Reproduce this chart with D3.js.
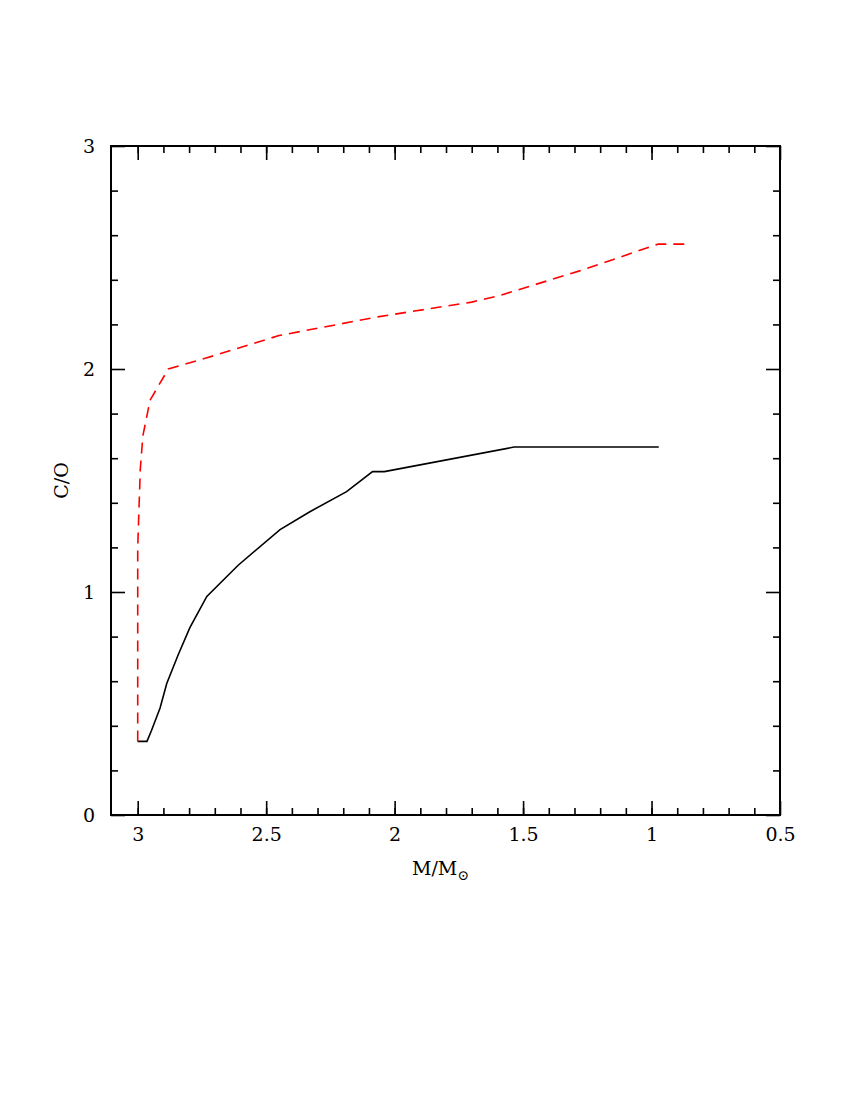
<!DOCTYPE html>
<html>
<head>
<meta charset="utf-8">
<script src="https://cdn.jsdelivr.net/npm/d3@7"></script>
<style>
  body { margin: 0; background: #fff; }
  .axis text { font-family: "DejaVu Serif", serif; font-size: 19px; fill: #000; }
  .axis line { stroke: #000; stroke-width: 1.6; }
</style>
</head>
<body>
<div id="chart"></div>
<script>
// data
const massSolid = [3.0, 2.964, 2.946, 2.913, 2.887, 2.842, 2.797, 2.731, 2.609, 2.446, 2.33, 2.187, 2.086, 2.04, 1.535, 0.972];
const coSolid = [0.33, 0.33, 0.38, 0.48, 0.59, 0.72, 0.84, 0.98, 1.12, 1.28, 1.36, 1.45, 1.54, 1.54, 1.65, 1.65];

const massDashed = [3.0, 3.0, 2.99, 2.98, 2.952, 2.881, 2.731, 2.45, 2.06, 1.70, 1.59, 1.28, 0.974, 0.863];
const coDashed = [0.33, 1.2, 1.55, 1.70, 1.86, 2.00, 2.05, 2.15, 2.235, 2.30, 2.33, 2.44, 2.56, 2.56];

const xMajor = [3, 2.5, 2, 1.5, 1, 0.5];
const xMinor = [3.0, 2.9, 2.8, 2.7, 2.6, 2.5, 2.4, 2.3, 2.2, 2.1, 2.0, 1.9, 1.8, 1.7, 1.6, 1.5, 1.4, 1.3, 1.2, 1.1, 1.0, 0.9, 0.8, 0.7, 0.6];
const yMajor = [0, 1, 2, 3];
const yMinor = [0.2, 0.4, 0.6, 0.8, 1.2, 1.4, 1.6, 1.8, 2.2, 2.4, 2.6, 2.8];

const draw = () => {
    // dimensions
    const dimensions = {
        width: 850,
        height: 1100,
        margin: { top: 146, left: 111, right: 70, bottom: 285 }
    };
    dimensions.containerWidth = dimensions.width - dimensions.margin.left - dimensions.margin.right;
    dimensions.containerHeight = dimensions.height - dimensions.margin.top - dimensions.margin.bottom;

    const svg = d3.select('#chart')
        .append('svg')
        .attr('width', dimensions.width)
        .attr('height', dimensions.height);

    const container = svg.append('g')
        .attr('transform', `translate(${dimensions.margin.left}, ${dimensions.margin.top})`);

    // scales
    const xScale = d3.scaleLinear()
        .domain([3.104, 0.5])
        .range([0, dimensions.containerWidth]);

    const yScale = d3.scaleLinear()
        .domain([0, 3])
        .range([dimensions.containerHeight, 0]);

    const W = dimensions.containerWidth, H = dimensions.containerHeight;

    // axes (ticks point inward on all four sides)
    const addAxis = (axis, transform) => {
        const g = container.append('g')
            .attr('class', 'axis')
            .attr('transform', transform)
            .call(axis);
        g.select('.domain').remove();
        return g;
    };

    addAxis(d3.axisBottom(xScale).tickValues(xMinor).tickSize(-7).tickFormat(''), `translate(0,${H})`);
    addAxis(d3.axisBottom(xScale).tickValues(xMajor).tickSize(-14).tickPadding(13).tickFormat(d3.format('')), `translate(0,${H})`);
    addAxis(d3.axisTop(xScale).tickValues(xMinor).tickSize(-7).tickFormat(''), 'translate(0,0)');
    addAxis(d3.axisTop(xScale).tickValues(xMajor).tickSize(-14).tickFormat(''), 'translate(0,0)');

    addAxis(d3.axisLeft(yScale).tickValues(yMinor).tickSize(-7).tickFormat(''), 'translate(0,0)');
    addAxis(d3.axisLeft(yScale).tickValues(yMajor).tickSize(-14).tickPadding(16).tickFormat(d3.format('')), 'translate(0,0)');
    addAxis(d3.axisRight(yScale).tickValues(yMinor).tickSize(-7).tickFormat(''), `translate(${W},0)`);
    addAxis(d3.axisRight(yScale).tickValues(yMajor).tickSize(-14).tickFormat(''), `translate(${W},0)`);

    // frame
    container.append('rect')
        .attr('width', W)
        .attr('height', H)
        .attr('fill', 'none')
        .attr('stroke', '#000')
        .attr('stroke-width', 2);

    // lines
    const line = d3.line()
        .x(d => xScale(d[0]))
        .y(d => yScale(d[1]));

    container.append('path')
        .datum(d3.zip(massSolid, coSolid))
        .attr('d', line)
        .attr('fill', 'none')
        .attr('stroke', '#000')
        .attr('stroke-width', 1.6);

    container.append('path')
        .datum(d3.zip(massDashed, coDashed))
        .attr('d', line)
        .attr('fill', 'none')
        .attr('stroke', '#ff0000')
        .attr('stroke-width', 1.6)
        .attr('stroke-dasharray', '11,7');

    // axis labels
    const xLabel = container.append('text')
        .attr('x', W / 2 - 5)
        .attr('y', H + 60)
        .attr('text-anchor', 'middle')
        .style('font-family', '"DejaVu Serif", serif')
        .style('font-size', '19px');
    xLabel.append('tspan').text('M/M');
    xLabel.append('tspan').attr('dy', 5).style('font-size', '14px').text('\u2299');

    container.append('text')
        .attr('transform', `translate(${-43}, ${H / 2}) rotate(-90)`)
        .attr('text-anchor', 'middle')
        .style('font-family', '"DejaVu Serif", serif')
        .style('font-size', '19px')
        .text('C/O');
};

draw();
</script>
</body>
</html>
